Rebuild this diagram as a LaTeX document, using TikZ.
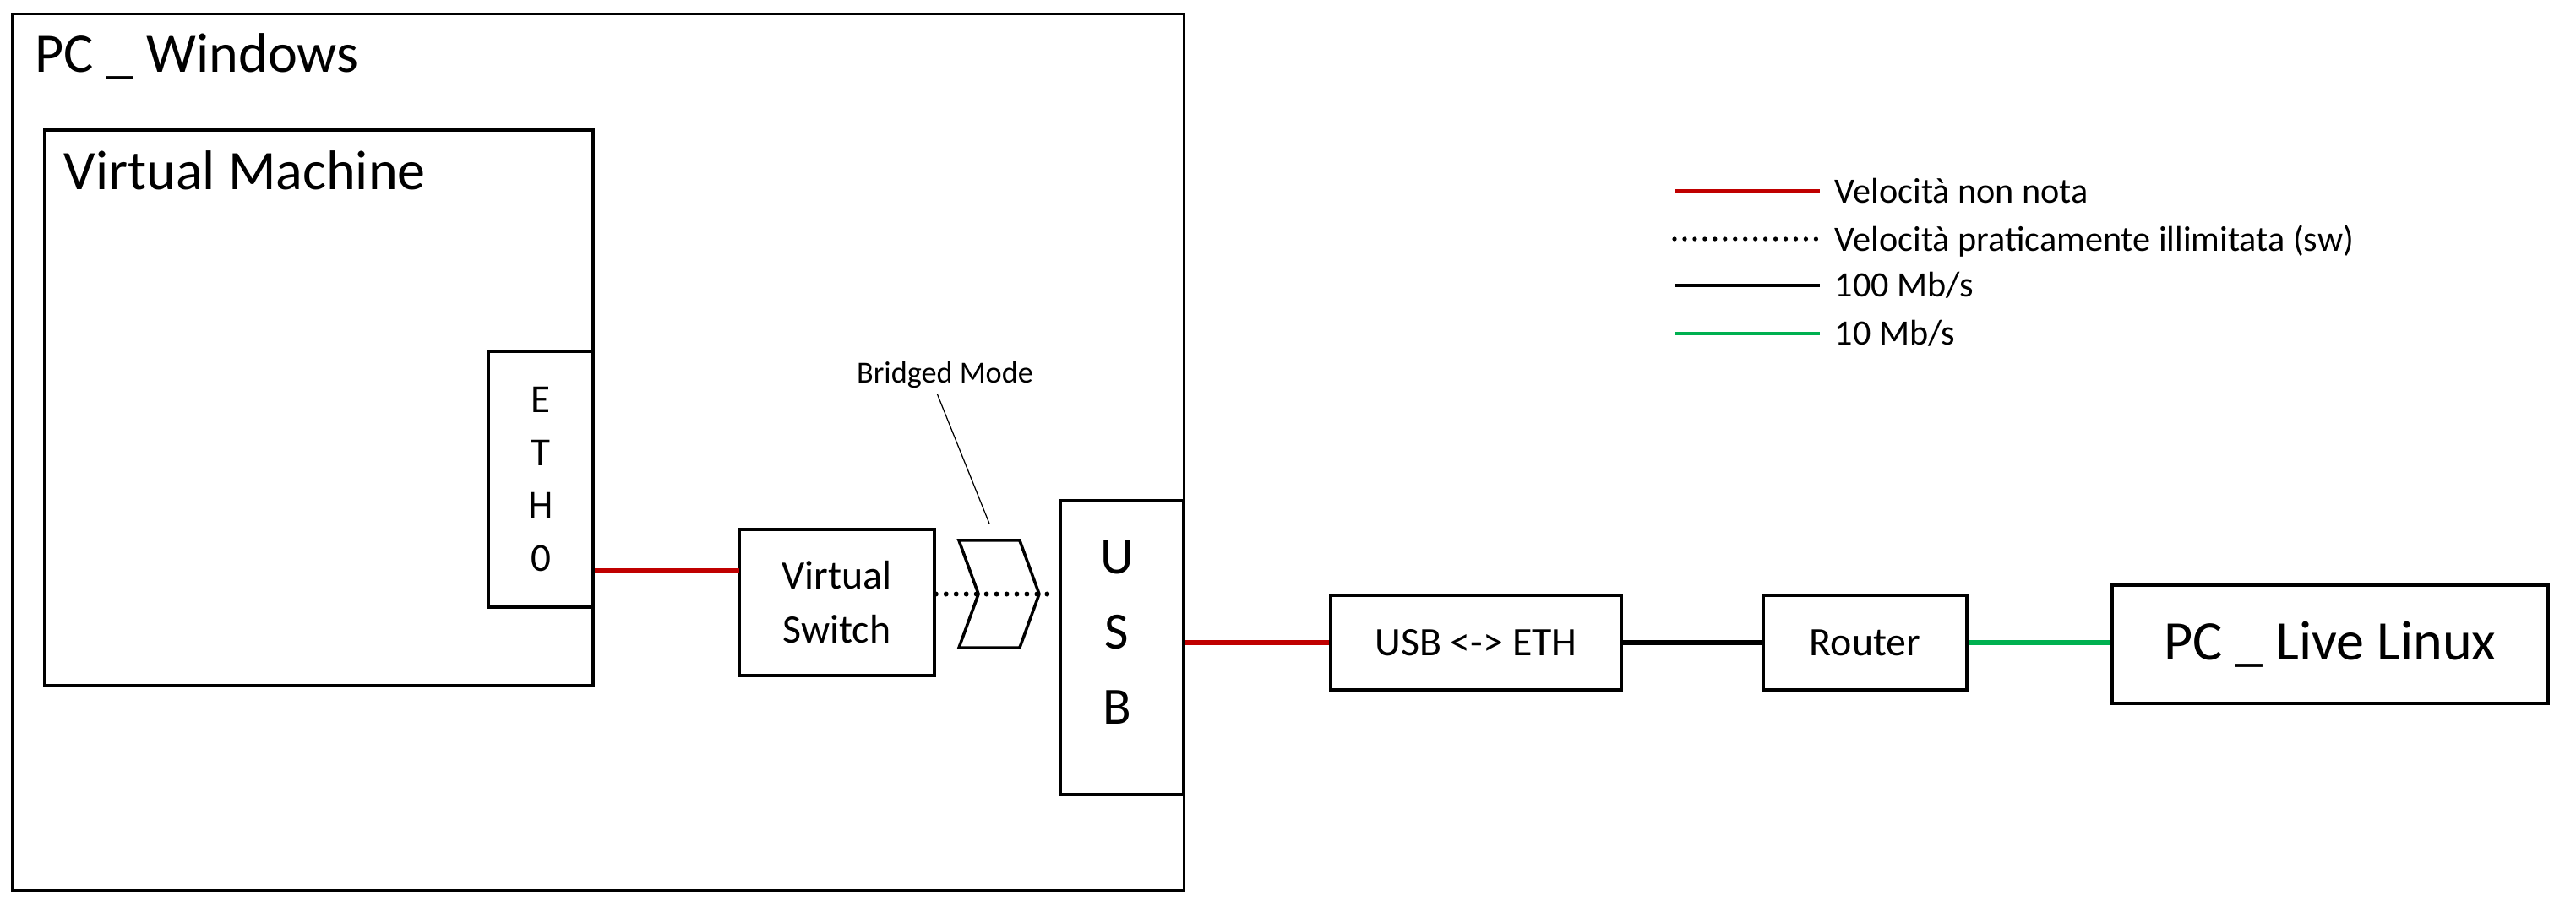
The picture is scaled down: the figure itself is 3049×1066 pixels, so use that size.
\documentclass[tikz,border=0pt]{standalone}
\usepackage{fontspec}
\setmainfont{Carlito}
\usetikzlibrary{positioning,calc,shapes.symbols}

\definecolor{rossoVel}{HTML}{C00000}
\definecolor{verdeVel}{HTML}{00B050}

\tikzset{
  box/.style={draw, line width=1pt, inner sep=0pt},
  titolo/.style={anchor=base west, inner sep=0pt, font=\fontsize{18.8}{22}\selectfont},
  medio/.style={font=\fontsize{13.6}{18.2}\selectfont, align=center},
  legtxt/.style={anchor=base west, inner sep=0pt, font=\fontsize{12}{14}\selectfont},
  vnn/.style={draw=rossoVel, line width=1.5pt},
  vill/.style={draw=black, line width=1.7pt, line cap=round, dash pattern=on 0pt off 3.4pt},
  v100/.style={draw=black, line width=1.5pt},
  v10/.style={draw=verdeVel, line width=1.5pt}
}

\begin{document}
\begin{tikzpicture}[x=0.01cm, y=-0.01cm]
    \useasboundingbox (0,0) rectangle (3049,1066);

    % PC Windows
    \node[box, minimum width=13.86cm, minimum height=10.37cm] (win) at (708,535.5) {};
    \node[titolo] (wintxt) at ($(win.north west)+(28,71)$) {PC \_ Windows};

    % Macchina virtuale e scheda ETH0
    \node[box, minimum width=6.49cm, minimum height=6.58cm] (vm) at (377.5,483) {};
    \node[titolo] (vmtxt) at ($(vm.north west)+(24,72)$) {Virtual Machine};
    \node[box, fill=white, minimum width=1.24cm, minimum height=3.03cm, align=center,
          font=\fontsize{13.4}{17.9}\selectfont] (eth) at (640,567.5) {E\\T\\H\\0};

    % Switch virtuale, bridge e USB
    \node[box, medio, minimum width=2.31cm, minimum height=1.73cm] (vsw) at (990.5,713.5) {Virtual\\Switch};
    \node[box, minimum width=1.46cm, minimum height=3.48cm] (usb) at (1328,767) {};
    \node[align=center, inner sep=0pt, font=\fontsize{17.6}{25.3}\selectfont] (usbtxt)
          at ($(usb.center)+(-6,-18)$) {U\\S\\B};

    \draw[vill, shorten >=0.1cm] (vsw.east |- 0,703.5) -- (usb.west |- 0,703.5);
    \node[draw, line width=1pt, signal, signal from=west, signal to=east, signal pointer angle=140,
          minimum width=0.95cm, minimum height=1.27cm, inner sep=0pt] (bridge) at (1182.5,703.5) {};

    \node[anchor=base, inner sep=2pt, font=\fontsize{10.3}{12}\selectfont] (bmtxt) at (1118.5,453) {Bridged Mode};
    \coordinate (bmend) at (1171,620);
    \draw[line width=0.35pt] ([xshift=-0.09cm]bmtxt.south) -- (bmend);

    % Catena esterna
    \node[box, medio, minimum width=3.44cm, minimum height=1.12cm] (conv) at (1747,761) {USB <-> ETH};
    \node[box, medio, minimum width=2.41cm, minimum height=1.12cm] (router) at (2207.5,761) {Router};
    \node[box, minimum width=5.16cm, minimum height=1.40cm, font=\fontsize{18.8}{22}\selectfont] (linux) at (2758,763) {PC \_ Live Linux};

    % Collegamenti
    \coordinate (vswin) at (875,676);
    \draw[vnn] (eth.east |- vswin) -- (vswin);
    \draw[vnn] (usb.east |- conv.west) -- (conv.west);
    \draw[v100] (conv.east) -- (router.west);
    \draw[v10] (router.east) -- (router.east -| linux.west);

    % Legenda
    \coordinate (l1a) at (1982,226); \coordinate (l1b) at (2154,226);
    \coordinate (l2a) at (1982,283); \coordinate (l2b) at (2154,283);
    \coordinate (l3a) at (1982,338); \coordinate (l3b) at (2154,338);
    \coordinate (l4a) at (1982,395); \coordinate (l4b) at (2154,395);
    \draw[vnn, line width=1.2pt] (l1a) -- (l1b);
    \draw[vill, line width=1.5pt] (l2a) -- (l2b);
    \draw[v100, line width=1.2pt] (l3a) -- (l3b);
    \draw[v10, line width=1.2pt] (l4a) -- (l4b);
    \node[legtxt] (leg1) at (2171,240) {Velocità non nota};
    \node[legtxt] (leg2) at (2171,297) {Velocità praticamente illimitata (sw)};
    \node[legtxt] (leg3) at (2171,351) {100 Mb/s};
    \node[legtxt] (leg4) at (2171,408) {10 Mb/s};
\end{tikzpicture}
\end{document}
